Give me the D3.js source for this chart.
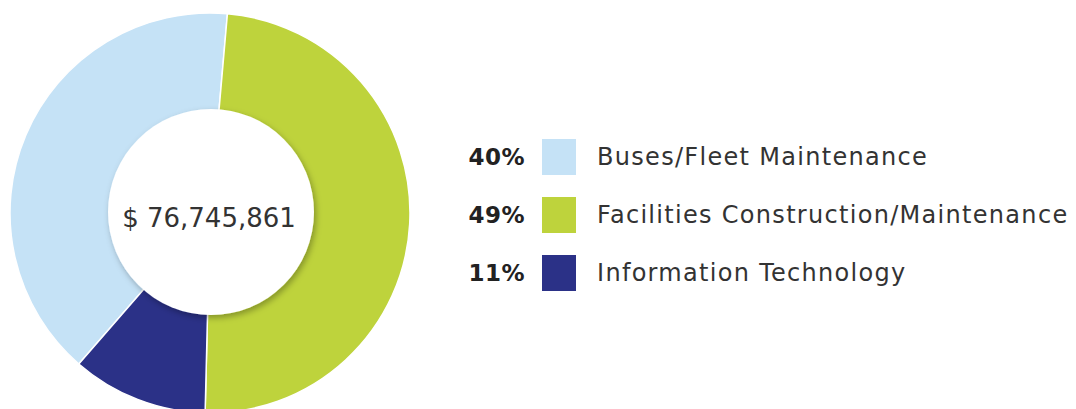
<!DOCTYPE html>
<html>
<head>
<meta charset="utf-8">
<script src="https://cdn.jsdelivr.net/npm/d3@7"></script>
<style>
  html, body { margin: 0; padding: 0; background: #fff; }
  svg { display: block; font-family: "DejaVu Sans", "Open Sans", sans-serif; }
</style>
</head>
<body>
<svg id="chart" width="1076" height="409"></svg>
<script>
// data, in legend order
const categories = ["Buses/Fleet Maintenance", "Facilities Construction/Maintenance", "Information Technology"];
const shares = [40, 49, 11];
const shareLabels = ["40%", "49%", "11%"];
const colors = ["#c5e2f6", "#bed33c", "#2b3187"];
const totalLabel = "$ 76,745,861";

const cfg = {
    cx: 210, cy: 213,
    outer: 200, inner: 96,
    hole: { dx: 1, dy: -1, r: 103 },
    startDeg: -139,
    legend: { x: 542, y: 139, step: 58, sw: 34, sh: 36 }
};

const svg = d3.select("#chart");

// soft shadow for the centre disc
const defs = svg.append("defs");
const f = defs.append("filter").attr("id", "shadow")
    .attr("x", "-20%").attr("y", "-20%").attr("width", "140%").attr("height", "140%");
f.append("feDropShadow").attr("dx", 2).attr("dy", 3).attr("stdDeviation", 3)
    .attr("flood-color", "#000").attr("flood-opacity", 0.3);

const rad = cfg.startDeg * Math.PI / 180;
const pie = d3.pie().sort(null).value(d => d).startAngle(rad).endAngle(rad + 2 * Math.PI);
const arc = d3.arc().innerRadius(cfg.inner).outerRadius(cfg.outer);

const g = svg.append("g").attr("transform", `translate(${cfg.cx},${cfg.cy})`);
g.selectAll("path.slice").data(pie(shares)).join("path")
    .attr("class", "slice")
    .attr("d", arc)
    .attr("fill", (d, i) => colors[i])
    .attr("stroke", "#fff").attr("stroke-width", 1.5);

g.append("circle")
    .attr("cx", cfg.hole.dx).attr("cy", cfg.hole.dy).attr("r", cfg.hole.r)
    .attr("fill", "#fff").attr("filter", "url(#shadow)");

g.append("text")
    .attr("x", -1).attr("y", 14)
    .attr("text-anchor", "middle")
    .attr("font-size", 26).attr("fill", "#333")
    .text(totalLabel);

// legend
const y = d3.scaleBand().domain(categories)
    .range([cfg.legend.y, cfg.legend.y + cfg.legend.step * categories.length])
    .paddingInner(0).paddingOuter(0);

const lg = svg.append("g");
const rows = lg.selectAll("g.row").data(categories).join("g")
    .attr("class", "row")
    .attr("transform", d => `translate(${cfg.legend.x},${y(d)})`);

rows.append("rect")
    .attr("width", cfg.legend.sw).attr("height", cfg.legend.sh)
    .attr("fill", (d, i) => colors[i]);

rows.append("text")
    .attr("x", -17).attr("y", cfg.legend.sh / 2 + 8)
    .attr("text-anchor", "end")
    .attr("font-size", 23).attr("font-weight", 700).attr("fill", "#222")
    .attr("letter-spacing", 0.5)
    .text((d, i) => shareLabels[i]);

rows.append("text")
    .attr("x", 55).attr("y", cfg.legend.sh / 2 + 8)
    .attr("font-size", 24).attr("fill", "#333")
    .attr("letter-spacing", 1.3)
    .text(d => d);
</script>
</body>
</html>
